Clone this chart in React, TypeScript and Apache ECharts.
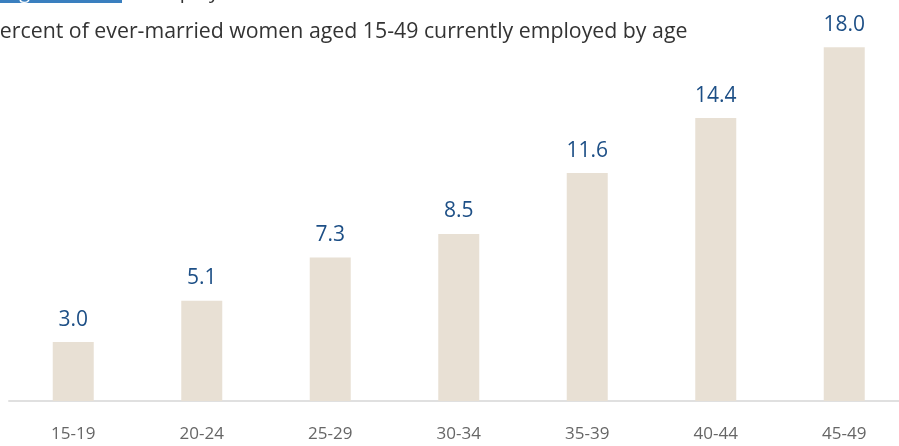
import React, { useEffect, useRef } from "react";
import * as echarts from "echarts";

const categories = ["15-19", "20-24", "25-29", "30-34", "35-39", "40-44", "45-49"];
const values = [3.0, 5.1, 7.3, 8.5, 11.6, 14.4, 18.0];
const subtitle = "Percent of ever-married women aged 15-49 currently employed by age";
const header = "Employment";
const figureTag = "Figure 1";

export default function App() {
  const ref = useRef<HTMLDivElement>(null);
  useEffect(() => {
    if (!ref.current) return;
    const chart = echarts.init(ref.current, null, { renderer: "svg" });
    chart.setOption({
      animation: false,
      grid: { left: 9, top: 8, bottom: 45, width: 899.5, outerBoundsMode: "none", containLabel: false },
      xAxis: {
        type: "category",
        data: categories,
        axisLine: { lineStyle: { color: "#e0e0e0", width: 2 } },
        axisTick: { show: false },
        axisLabel: { color: "#666", fontSize: 17, margin: 23, fontFamily: "Open Sans" },
      },
      yAxis: { type: "value", min: 0, max: 20, show: false, splitLine: { show: false } },
      graphic: [
        { type: "rect", shape: { x: 0, y: 0, width: 122, height: 3 }, style: { fill: "#3a7fbf" } },
        {
          type: "text",
          x: 4,
          y: -20,
          style: { text: figureTag, fill: "#ffffff", font: "20px 'Open Sans'" },
        },
        {
          type: "text",
          x: 150,
          y: -20,
          style: { text: header, fill: "#333", font: "20px 'Open Sans'" },
        },
        {
          type: "text",
          x: -13,
          y: 29,
          style: {
            text: subtitle,
            fill: "#333",
            font: "21.3px 'Open Sans'",
            verticalAlign: "middle",
          },
        },
      ],
      series: [
        {
          type: "bar",
          data: values,
          barWidth: 41,
          itemStyle: { color: "#e8e0d4" },
          label: {
            show: true,
            position: "top",
            distance: 14,
            color: "#1d4f86",
            fontSize: 21,
            fontFamily: "Open Sans",
            formatter: (p: any) => p.value.toFixed(1),
          },
        },
      ],
    });
    return () => chart.dispose();
  }, []);
  return <div ref={ref} style={{ position: "fixed", left: 0, top: 0, width: 899, height: 446 }} />;
}
